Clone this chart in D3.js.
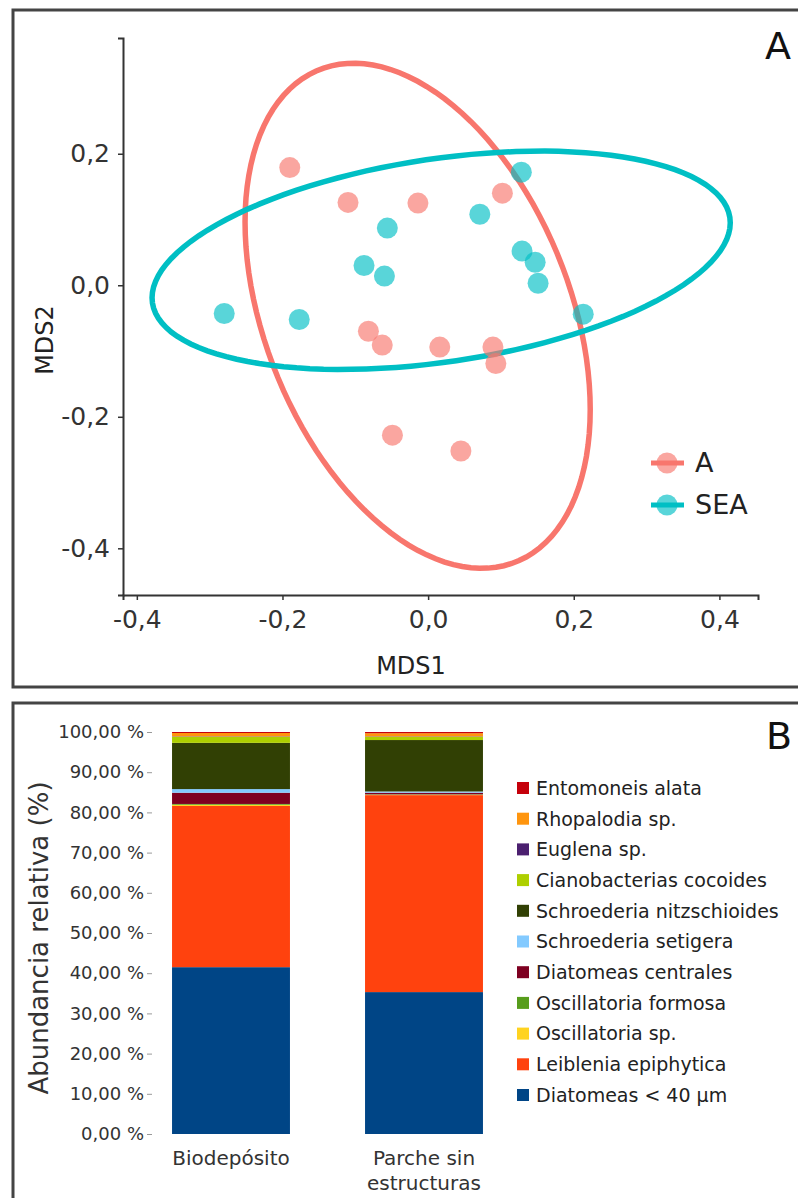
<!DOCTYPE html>
<html>
<head>
<meta charset="utf-8">
<script src="https://cdn.jsdelivr.net/npm/d3@7"></script>
<style>
  body { margin: 0; background: #fff; }
  svg { display: block; font-family: "DejaVu Sans", sans-serif; }
</style>
</head>
<body>
<div id="chart"></div>
<script>
// ---- panel A: NMDS scores ----
const groups = ["A", "SEA"];
const groupColors = ["#F8766D", "#00BFC4"];
const ptsA_x = [-0.190, -0.110, -0.014, 0.102, -0.082, -0.063, 0.016, 0.089, 0.093, -0.049, 0.045];
const ptsA_y = [0.179, 0.126, 0.125, 0.140, -0.070, -0.091, -0.094, -0.094, -0.119, -0.228, -0.252];
const ptsSEA_x = [0.128, 0.071, -0.056, -0.088, -0.060, 0.129, 0.147, 0.151, 0.213, -0.280, -0.177];
const ptsSEA_y = [0.172, 0.108, 0.087, 0.030, 0.014, 0.052, 0.035, 0.003, -0.044, -0.043, -0.052];
// ellipse: centre, half extents and correlation (data units)
const ellA = [-0.0144, -0.0464, 0.237, 0.384, -0.371];
const ellSEA = [0.0179, 0.038, 0.397, 0.166, 0.343];
const mdsTicks = [-0.4, -0.2, 0.0, 0.2, 0.4];

// ---- panel B: relative abundance ----
const sites = ["Biodepósito", "Parche sin estructuras"];
const species = ["Diatomeas < 40 µm", "Leiblenia epiphytica", "Oscillatoria sp.", "Oscillatoria formosa",
  "Diatomeas centrales", "Schroederia setigera", "Schroederia nitzschioides", "Cianobacterias cocoides",
  "Euglena sp.", "Rhopalodia sp.", "Entomoneis alata"];
const speciesColors = ["#004586", "#ff420e", "#ffd320", "#579d1c", "#7e0021", "#83caff", "#314004",
  "#aecf00", "#4b1f6f", "#ff950e", "#c5000b"];
const biodeposito = [41.5, 40.1, 0.3, 0.2, 2.8, 0.9, 11.5, 1.5, 0.1, 0.85, 0.25];
const parche = [35.3, 49.0, 0.1, 0.1, 0.4, 0.3, 12.8, 0.8, 0.1, 0.8, 0.3];
const pctTicks = [0, 10, 20, 30, 40, 50, 60, 70, 80, 90, 100];

const W = 798, H = 1198;
const locale = d3.formatLocale({ decimal: ",", thousands: ".", grouping: [3], currency: ["", ""], minus: "-" });
const f1 = locale.format(".1f");
const f2 = locale.format(".2f");

const svg = d3.select("#chart").append("svg").attr("width", W).attr("height", H);

// panel frames
svg.append("rect").attr("x", 13).attr("y", 10).attr("width", 800).attr("height", 677)
  .attr("fill", "none").attr("stroke", "#444").attr("stroke-width", 3);
svg.append("rect").attr("x", 13).attr("y", 703).attr("width", 800).attr("height", 600)
  .attr("fill", "none").attr("stroke", "#444").attr("stroke-width", 3);

// ================= Panel A =================
const x = d3.scaleLinear().domain([-0.419, 0.453]).range([123, 758]);
const y = d3.scaleLinear().domain([-0.471, 0.376]).range([595, 38]);

const gA = svg.append("g");

const yAx = gA.append("g").attr("transform", "translate(123,0)")
  .call(d3.axisLeft(y).tickValues(mdsTicks.filter(d => d <= 0.3)).tickFormat(f1).tickSize(5).tickPadding(8));
const xAx = gA.append("g").attr("transform", "translate(0,595)")
  .call(d3.axisBottom(x).tickValues(mdsTicks).tickFormat(f1).tickSize(5).tickPadding(10));
[xAx, yAx].forEach(a => {
  a.select(".domain").attr("stroke", "#333").attr("stroke-width", 2);
  a.selectAll(".tick line").attr("stroke", "#333").attr("stroke-width", 1.5);
  a.selectAll(".tick text").attr("fill", "#333").style("font-size", "25px")
    .style("font-family", "DejaVu Sans");
});

gA.append("text").attr("x", 411).attr("y", 674).attr("text-anchor", "middle")
  .attr("fill", "#222").style("font-size", "24px").text("MDS1");
gA.append("text").attr("transform", "translate(53,340) rotate(-90)").attr("text-anchor", "middle")
  .attr("fill", "#222").style("font-size", "24px").text("MDS2");
gA.append("text").attr("x", 765).attr("y", 59).attr("fill", "#111").style("font-size", "38px").text("A");

function ellipsePath(e) {
  const [cx, cy, sx, sy, r] = e;
  const pts = d3.range(0, 361, 3).map(a => {
    const t = a * Math.PI / 180;
    return [cx + sx * Math.cos(t), cy + sy * (r * Math.cos(t) + Math.sqrt(1 - r * r) * Math.sin(t))];
  });
  return d3.line().x(d => x(d[0])).y(d => y(d[1])).curve(d3.curveLinearClosed)(pts);
}

const series = [
  { xs: ptsA_x, ys: ptsA_y, ell: ellA },
  { xs: ptsSEA_x, ys: ptsSEA_y, ell: ellSEA }
];

series.forEach((s, i) => {
  gA.append("path").attr("d", ellipsePath(s.ell)).attr("fill", "none")
    .attr("stroke", groupColors[i]).attr("stroke-width", 5.5);
});
series.forEach((s, i) => {
  gA.append("g").selectAll("circle").data(s.xs.map((v, k) => [v, s.ys[k]])).join("circle")
    .attr("cx", d => x(d[0])).attr("cy", d => y(d[1])).attr("r", 10.5)
    .attr("fill", groupColors[i]).attr("fill-opacity", 0.65);
});

// legend A
const legA = gA.append("g").attr("transform", "translate(667,463)");
groups.forEach((g, i) => {
  const row = legA.append("g").attr("transform", `translate(0,${i * 42})`);
  row.append("line").attr("x1", -16).attr("x2", 17).attr("stroke", groupColors[i]).attr("stroke-width", 5);
  row.append("circle").attr("r", 10.5).attr("fill", groupColors[i]).attr("fill-opacity", 0.65);
  row.append("text").attr("x", 28).attr("y", 9).attr("fill", "#222").style("font-size", "27px").text(g);
});

// ================= Panel B =================
const yB = d3.scaleLinear().domain([0, 100]).range([1134, 732]);
const xB = d3.scaleBand().domain(sites).range([134.5, 520.5]).paddingInner(0.389).paddingOuter(0.1945);

const gB = svg.append("g");
const yAxB = gB.append("g").attr("transform", "translate(152,0)")
  .call(d3.axisLeft(yB).tickValues(pctTicks).tickFormat(d => f2(d) + " %").tickSize(5).tickPadding(3));
yAxB.select(".domain").remove();
yAxB.selectAll(".tick line").attr("stroke", "#999");
yAxB.selectAll(".tick text").attr("fill", "#333").style("font-size", "18px").style("font-family", "DejaVu Sans");

gB.append("text").attr("transform", "translate(48,938) rotate(-90)").attr("text-anchor", "middle")
  .attr("fill", "#333").style("font-size", "26px").text("Abundancia relativa (%)");
gB.append("text").attr("x", 766).attr("y", 749).attr("fill", "#111").style("font-size", "38px").text("B");

const rows = species.map((sp, k) => ({ sp, [sites[0]]: biodeposito[k], [sites[1]]: parche[k] }));
const table = sites.map(s => {
  const o = { site: s };
  rows.forEach(r => { o[r.sp] = r[s]; });
  return o;
});
const stacked = d3.stack().keys(species)(table);

gB.append("g").selectAll("g").data(stacked).join("g")
  .attr("fill", (d, i) => speciesColors[i])
  .selectAll("rect").data(d => d).join("rect")
  .attr("x", d => xB(d.data.site)).attr("width", xB.bandwidth())
  .attr("y", d => yB(d[1])).attr("height", d => yB(d[0]) - yB(d[1]));

// category labels
const catLines = [["Biodepósito"], ["Parche sin", "estructuras"]];
sites.forEach((s, i) => {
  const t = gB.append("text").attr("x", xB(s) + xB.bandwidth() / 2).attr("y", 1165)
    .attr("text-anchor", "middle").attr("fill", "#333").style("font-size", "20px");
  catLines[i].forEach((l, j) => t.append("tspan").attr("x", xB(s) + xB.bandwidth() / 2)
    .attr("dy", j ? 25 : 0).text(l));
});

// legend B (top entry = top of stack)
const legB = gB.append("g").attr("transform", "translate(517,788)");
species.slice().reverse().forEach((sp, i) => {
  const k = species.length - 1 - i;
  const row = legB.append("g").attr("transform", `translate(0,${i * 30.7})`);
  row.append("rect").attr("x", 0).attr("y", -6).attr("width", 12).attr("height", 12).attr("fill", speciesColors[k]);
  row.append("text").attr("x", 19).attr("y", 0).attr("dy", "0.36em").attr("fill", "#222")
    .style("font-size", "19px").text(sp);
});
</script>
</body>
</html>
